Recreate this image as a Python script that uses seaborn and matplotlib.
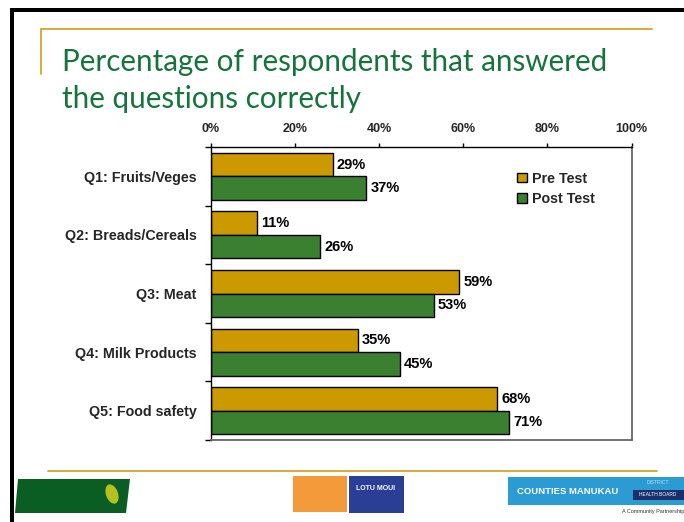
import matplotlib
matplotlib.use("Agg")
import matplotlib.pyplot as plt
import seaborn as sns
import pandas as pd
from matplotlib.patches import Rectangle, Polygon, Ellipse

# ---------------- data ----------------
categories = ["Q1: Fruits/Veges", "Q2: Breads/Cereals", "Q3: Meat",
              "Q4: Milk Products", "Q5: Food safety"]
pre_test = [29, 11, 59, 35, 68]
post_test = [37, 26, 53, 45, 71]
series = ["Pre Test", "Post Test"]
x_ticks = [0, 20, 40, 60, 80, 100]
x_tick_labels = ["0%", "20%", "40%", "60%", "80%", "100%"]
title_lines = ["Percentage of respondents that answered", "the questions correctly"]

df = pd.DataFrame({
    "Question": categories * 2,
    "Test": [series[0]] * len(categories) + [series[1]] * len(categories),
    "Percent": pre_test + post_test,
})

GOLD = "#CC9900"
GREEN = "#3A8030"
LINE_GOLD = "#D4A52A"
TITLE_GREEN = "#16733C"

sns.set_style("white")
plt.rcParams["font.family"] = ["Liberation Sans", "DejaVu Sans"]

W, H = 684, 522
fig = plt.figure(figsize=(W / 100, H / 100), dpi=100)
fig.patch.set_facecolor("white")

# ---------------- decorative slide background ----------------
bg = fig.add_axes([0, 0, 1, 1], zorder=0)
bg.set_xlim(0, W)
bg.set_ylim(H, 0)
bg.axis("off")
# black frame (top + left)
bg.add_patch(Rectangle((10, 8), W - 10, 4, color="black", lw=0))
bg.add_patch(Rectangle((10, 8), 4, H - 8, color="black", lw=0))
# gold lines
bg.plot([41, 652], [29, 29], color=LINE_GOLD, lw=1.3)
bg.plot([41, 41], [29, 74], color=LINE_GOLD, lw=1.3)
bg.plot([48, 657], [471, 471], color=LINE_GOLD, lw=1.3)

# logos (approximate)
bg.add_patch(Polygon([[18, 479], [130, 479], [126, 513], [15, 513]], closed=True,
                     color="#0B5E23", lw=0))
bg.add_patch(Ellipse((112, 494), 12, 20, angle=-20, color="#B5C21E", lw=0))
bg.add_patch(Rectangle((293, 476), 54, 36, color="#F39A3A", lw=0))
bg.add_patch(Rectangle((349, 476), 55, 37, color="#2B3E96", lw=0))
bg.text(376, 489, "LOTU MOUI", color="white", fontsize=5, fontweight="bold",
        ha="center", va="center")
bg.add_patch(Rectangle((508, 477), W - 508, 28, color="#2C9AD3", lw=0))
bg.text(568, 491, "COUNTIES MANUKAU", color="white", fontsize=6.8, fontweight="bold",
        ha="center", va="center")
bg.add_patch(Rectangle((633, 490), W - 633, 10, color="#1B2F6B", lw=0))
bg.text(658, 483, "DISTRICT", color="#BFE3F5", fontsize=3.5, ha="center", va="center")
bg.text(658, 495, "HEALTH BOARD", color="white", fontsize=3.5, ha="center", va="center")
bg.text(684, 511, "A Community Partnership", color="#333333", fontsize=4,
        ha="right", va="center")

# title
title_font = ["Lato", "Liberation Sans", "DejaVu Sans"]
fig.text(62 / W, 1 - 71 / H, title_lines[0], color=TITLE_GREEN, fontsize=21.3,
         family=title_font, ha="left", va="baseline")
fig.text(62 / W, 1 - 108 / H, title_lines[1], color=TITLE_GREEN, fontsize=21.3,
         family=title_font, ha="left", va="baseline")

# ---------------- chart ----------------
left_px, right_px, top_px, bottom_px = 210.7, 631.5, 147, 440
ax = fig.add_axes([left_px / W, 1 - bottom_px / H,
                   (right_px - left_px) / W, (bottom_px - top_px) / H], zorder=2)

sns.barplot(data=df, y="Question", x="Percent", hue="Test", order=categories,
            hue_order=series, palette=[GOLD, GREEN], orient="h", width=0.8,
            edgecolor="black", linewidth=1, saturation=1, errorbar=None, ax=ax)

for cont, vals in zip(ax.containers, [pre_test, post_test]):
    ax.bar_label(cont, labels=[f"{v}%" for v in vals], padding=3,
                 fontsize=10.5, fontweight="bold", color="black")

ax.set_xlim(0, 100)
ax.set_ylim(len(categories) - 0.5, -0.5)
ax.set_xlabel("")
ax.set_ylabel("")

ax.xaxis.set_ticks_position("top")
ax.xaxis.set_label_position("top")
ax.set_xticks(x_ticks)
ax.set_xticklabels(x_tick_labels, fontsize=9, fontweight="bold")
ax.tick_params(axis="x", which="major", direction="out", length=3, width=1,
               color="black", pad=6, top=True, bottom=False)

ax.set_yticks(range(len(categories)))
ax.set_yticklabels(categories, fontsize=10.3, fontweight="bold")
ax.set_yticks([i - 0.5 for i in range(len(categories) + 1)], minor=True)
ax.tick_params(axis="y", which="major", length=0, pad=10)
ax.tick_params(axis="y", which="minor", direction="out", length=4, width=1,
               color="black", left=True)

for s in ["top", "left"]:
    ax.spines[s].set_color("black")
    ax.spines[s].set_linewidth(1)
for s in ["right", "bottom"]:
    ax.spines[s].set_color("#666666")
    ax.spines[s].set_linewidth(1.3)

handles, labels = ax.get_legend_handles_labels()
ax.legend(handles, labels, loc="upper left", bbox_to_anchor=(0.712, 0.94),
          frameon=False, handlelength=0.65, handleheight=0.65, handletextpad=0.4,
          labelspacing=0.45, borderpad=0,
          prop={"weight": "bold", "size": 10.3, "family": ["Liberation Sans", "DejaVu Sans"]})

fig.savefig("out.png", dpi=100, facecolor="white")
